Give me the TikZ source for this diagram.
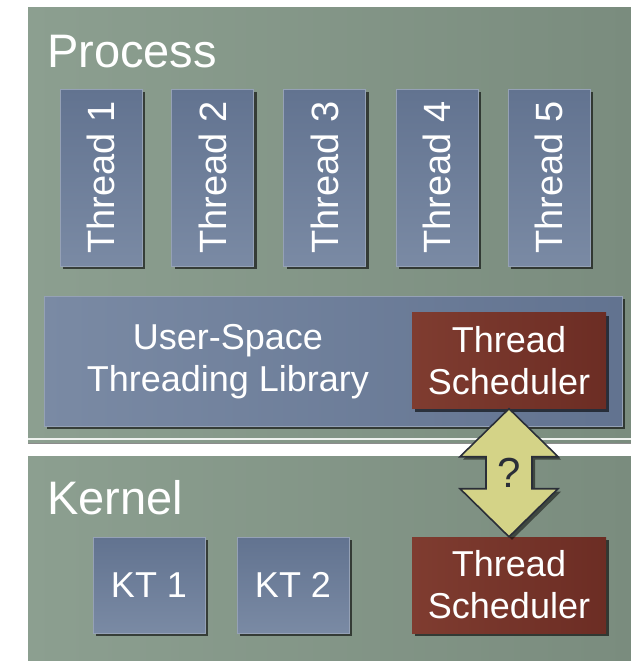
\documentclass[tikz,border=0pt]{standalone}
\usepackage{fontspec}
\setmainfont{Liberation Sans}
\usetikzlibrary{shadows,calc}
\definecolor{panelL}{HTML}{8C9F90}
\definecolor{panelR}{HTML}{7A8C7E}
\definecolor{blueL}{HTML}{7A8AA4}
\definecolor{blueR}{HTML}{627390}
\definecolor{redL}{HTML}{7F3C30}
\definecolor{redR}{HTML}{6C2D24}
\definecolor{arrowfill}{HTML}{D4D387}
\definecolor{arrowline}{HTML}{2A2E38}
\tikzset{
  panel/.style={left color=panelL, right color=panelR, draw=none,
    drop shadow={shadow xshift=0pt, shadow yshift=-2pt, fill=black, opacity=0.45}},
  boxshadow/.style={drop shadow={shadow xshift=3pt, shadow yshift=-3pt, fill=black, opacity=0.6}},
  bluebox/.style={shade, shading angle=135, top color=blueR, bottom color=blueL, draw=blueL!80!white, line width=0.6pt,
    inner sep=0pt, text=white, align=center, font=\fontsize{36}{42}\selectfont, boxshadow},
  redbox/.style={left color=redL, right color=redR, draw=none,
    inner sep=0pt, text=white, align=center, font=\fontsize{36}{42}\selectfont, boxshadow},
  threadbox/.style={bluebox, minimum width=82pt, minimum height=177pt, font=\fontsize{38}{42}\selectfont},
  ktbox/.style={bluebox, minimum width=112pt, minimum height=96pt},
  schedbox/.style={redbox, minimum width=194pt, minimum height=96pt},
  title/.style={text=white, inner sep=0pt, font=\fontsize{47}{52}\selectfont, anchor=base west}
}
\begin{document}
\begin{tikzpicture}[x=1pt,y=-1pt]
\useasboundingbox (0,0) rectangle (631,661);
\fill[white] (0,0) rectangle (631,661);
% panels
\path[panel] (28,8) rectangle (631,442);
\path[panel] (28,456) rectangle (631,661);
\draw[white!85!panelL, line width=1.2pt] (28,439) -- (631,439);
\node[title] (proc) at (47,67) {Process};
\node[title] (kern) at (47,514) {Kernel};
% threads
\node[threadbox] (t1) at (101,177.5) {\rotatebox{90}{Thread 1}};
\node[threadbox] (t2) at (212.5,177.5) {\rotatebox{90}{Thread 2}};
\node[threadbox] (t3) at (324.5,177.5) {\rotatebox{90}{Thread 3}};
\node[threadbox] (t4) at (437,177.5) {\rotatebox{90}{Thread 4}};
\node[threadbox] (t5) at (549,177.5) {\rotatebox{90}{Thread 5}};
% library
\node[bluebox, left color=blueL, right color=blueR, minimum width=578pt, minimum height=130pt] (lib) at (333,361) {};
\node[text=white, align=center, inner sep=0pt, font=\fontsize{36}{42}\selectfont] (libtext) at (228,362) {User-Space\\Threading Library};
\node[schedbox] (ts1) at (509,360.5) {Thread\\Scheduler};
% kernel
\node[ktbox] (kt1) at (149,585) {KT 1};
\node[ktbox] (kt2) at (293,585) {KT 2};
\node[schedbox] (ts2) at (509,585) {Thread\\Scheduler};
% double arrow
\path[fill=arrowfill, draw=arrowline, line width=1.6pt, line join=miter,
  drop shadow={shadow xshift=3pt, shadow yshift=-3pt, fill=black, opacity=0.5}]
  (ts1.south) -- ($(ts1.south)+(49,48)$) -- ($(ts1.south)+(23,48)$) -- ($(ts1.south)+(23,80)$)
  -- ($(ts1.south)+(49,80)$) -- (ts2.north) -- ($(ts1.south)+(-49,80)$) -- ($(ts1.south)+(-23,80)$)
  -- ($(ts1.south)+(-23,48)$) -- ($(ts1.south)+(-49,48)$) -- cycle;
\node[text=arrowline, inner sep=0pt, font=\fontsize{42}{46}\selectfont] (q) at ($(ts1.south)!0.5!(ts2.north)$) {?};
\end{tikzpicture}
\end{document}
